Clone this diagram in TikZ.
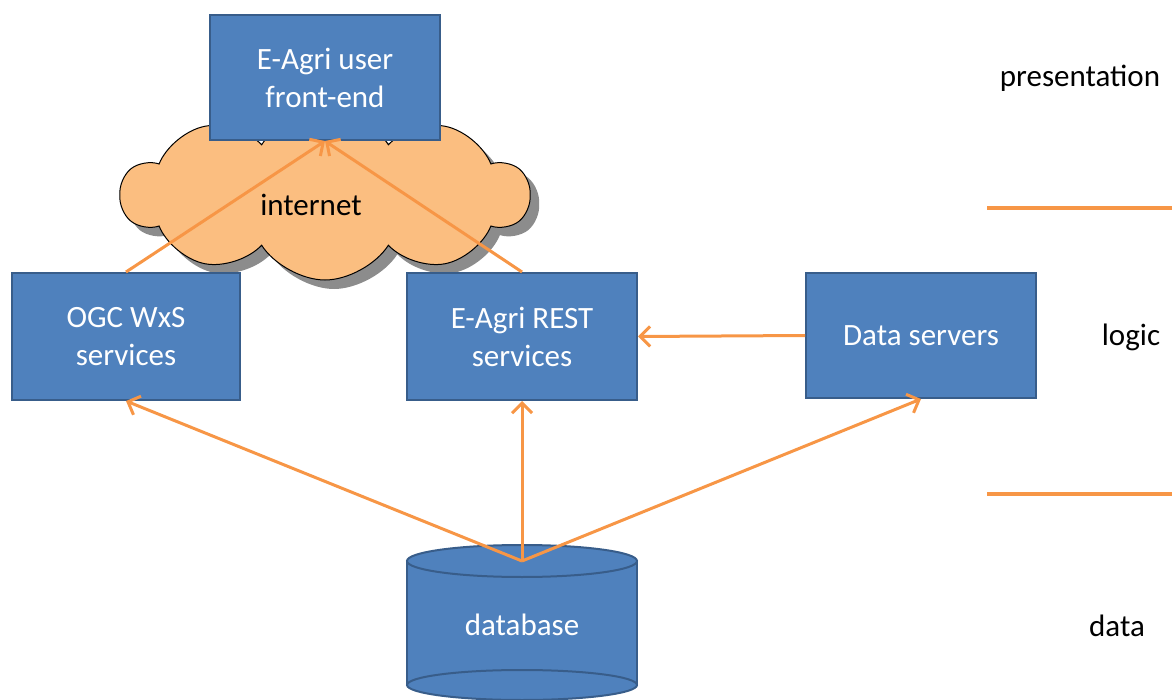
\documentclass[tikz,border=0pt]{standalone}
\usepackage{fontspec}
\setmainfont{Carlito}
\usetikzlibrary{shapes.symbols,shadows,arrows.meta}
\definecolor{boxfill}{RGB}{79,129,189}
\definecolor{boxline}{RGB}{56,93,138}
\definecolor{arr}{RGB}{247,150,70}
\definecolor{cloudfill}{RGB}{251,190,128}
\tikzset{
  box/.style={draw=boxline, line width=2pt, fill=boxfill, text=white, align=center,
    font=\fontsize{31}{38}\selectfont, inner sep=0pt},
  lbl/.style={text=black, font=\fontsize{31}{38}\selectfont, inner sep=0pt},
  conn/.style={draw=arr, line width=3pt, -{Straight Barb[length=10pt,width=20pt,line width=3pt]}},
  sep/.style={draw=arr, line width=3.5pt},
}
\begin{document}
\begin{tikzpicture}[x=1pt,y=-1pt]
\useasboundingbox (0,0) rectangle (1172,700);
% cloud
\node[cloud, cloud puffs=10, cloud puff arc=115, aspect=2.4, draw=black, line width=1pt,
  fill=cloudfill, minimum width=408, minimum height=170, inner sep=0pt,
  drop shadow={shadow xshift=9pt, shadow yshift=-9pt, fill=black!45, opacity=1}]
  (cloud) at (325,195) {};
\node[lbl] (inet) at (311,205) {internet};
% boxes
\node[box, minimum width=230, minimum height=125] (fe) at (325,77.5) {E-Agri user\\front-end};
\node[box, minimum width=228, minimum height=127] (ogc) at (126,336.5) {OGC WxS\\services};
\node[box, minimum width=230, minimum height=127] (rest) at (522,336.5) {E-Agri REST\\services};
\node[box, minimum width=230, minimum height=125] (ds) at (921,335.5) {Data servers};
% database cylinder
\fill[boxfill] (407,561) rectangle (637,685);
\filldraw[fill=boxfill, draw=boxline, line width=2pt] (522,685) ellipse [x radius=115, y radius=15];
\draw[boxline, line width=2pt] (407,561) -- (407,685) (637,561) -- (637,685);
\filldraw[fill=boxfill, draw=boxline, line width=2pt] (522,561) ellipse [x radius=115, y radius=16];
\node[lbl, text=white] (db) at (522,625) {database};
\coordinate (dbtop) at (522,561);
% tier labels and separators
\node[lbl] (pres) at (1080,78) {presentation};
\node[lbl] (logic) at (1131,337) {logic};
\node[lbl] (data) at (1117,626) {data};
\coordinate (s1a) at (987,208);
\coordinate (s1b) at (1172,208);
\coordinate (s2a) at (987,494);
\coordinate (s2b) at (1172,494);
\draw[sep] (s1a) -- (s1b);
\draw[sep] (s2a) -- (s2b);
% connectors
\draw[conn] (ogc.north) -- (fe.south);
\draw[conn] (rest.north) -- (fe.south);
\draw[conn] (ds.west) -- (rest.east);
\draw[conn] (dbtop) -- (ogc.south);
\draw[conn] (dbtop) -- (rest.south);
\draw[conn] (dbtop) -- (ds.south);
\end{tikzpicture}
\end{document}
